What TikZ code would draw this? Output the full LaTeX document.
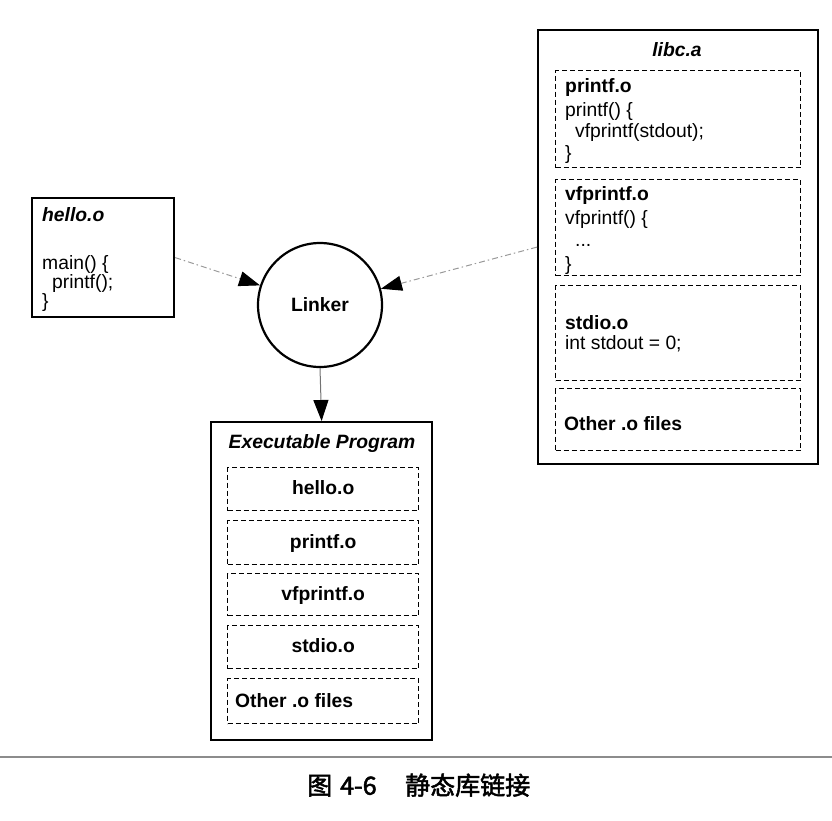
\documentclass[tikz,border=0pt]{standalone}
\usepackage{fontspec}
\setmainfont{Liberation Sans}
\newfontfamily\cjk{Noto Sans CJK SC}[FakeBold=2]
\usetikzlibrary{arrows.meta}
\tikzset{
  outerbox/.style={draw, line width=2.2pt, inner sep=0pt, anchor=north west},
  objbox/.style={draw, line width=1.4pt, dash pattern=on 5pt off 3pt, inner sep=0pt, anchor=north west},
  txt/.style={font=\fontsize{19.3}{22}\selectfont, inner sep=0pt, anchor=mid west, yshift=-3pt},
  btxt/.style={font=\fontsize{19.3}{22}\selectfont\bfseries, inner sep=0pt, anchor=mid west, yshift=-3pt},
  ctxt/.style={font=\fontsize{19.3}{22}\selectfont\bfseries, inner sep=0pt, anchor=mid, yshift=-3pt},
  bitxt/.style={font=\fontsize{19.3}{22}\selectfont\bfseries\itshape, inner sep=0pt, yshift=-3pt},
  linkarrow/.style={draw=black!40, line width=1pt, dash pattern=on 6pt off 3pt on 1.5pt off 3pt,
    -{Triangle[length=21pt,width=15pt,black]}},
  downarrow/.style={draw=black!55, line width=1pt, -{Triangle[length=21pt,width=15pt,black]}},
  capt/.style={font=\cjk\fontsize{25}{28}\selectfont, inner sep=0pt, anchor=mid west}
}
\begin{document}
\begin{tikzpicture}[x=1pt,y=-1pt]
\useasboundingbox (0,0) rectangle (832,820);

% hello.o
\node[outerbox, minimum width=142pt, minimum height=119pt] (hello) at (31,197) {};
\node[bitxt, anchor=mid west] (hellot) at (42,216) {hello.o};
\node[txt] (hl1) at (42,264) {main() \{};
\node[txt] (hl2) at (52,283) {printf();};
\node[txt] (hl3) at (42,302) {\}};

% linker
\node[draw, circle, line width=2.2pt, minimum size=124pt, inner sep=0pt,
      font=\fontsize{19.3}{22}\selectfont\bfseries] (linker) at (320,305) {Linker};

% libc.a
\node[outerbox, minimum width=280pt, minimum height=434pt] (libc) at (537,29) {};
\node[bitxt, anchor=mid] (libct) at (677,51) {libc.a};
\node[objbox, minimum width=245pt, minimum height=97pt] (lp) at (555,70) {};
\node[btxt] (lp1) at (565,87) {printf.o};
\node[txt] (lp2) at (565,111) {printf() \{};
\node[txt] (lp3) at (575,132) {vfprintf(stdout);};
\node[txt] (lp4) at (565,154) {\}};
\node[objbox, minimum width=245pt, minimum height=96pt] (lv) at (555,179) {};
\node[btxt] (lv1) at (565,195) {vfprintf.o};
\node[txt] (lv2) at (565,219) {vfprintf() \{};
\node[txt] (lv3) at (575,241) {...};
\node[txt] (lv4) at (565,265) {\}};
\node[objbox, minimum width=245pt, minimum height=95pt] (ls) at (555,285) {};
\node[btxt] (ls1) at (565,324) {stdio.o};
\node[txt] (ls2) at (565,344) {int stdout = 0;};
\node[objbox, minimum width=245pt, minimum height=62pt] (lo) at (555,388) {};
\node[btxt] (lo1) at (564,425) {Other .o files};

% executable
\node[outerbox, minimum width=221pt, minimum height=318pt] (exec) at (210,421) {};
\node[bitxt, anchor=mid] (exect) at (322,443) {Executable Program};
\node[objbox, minimum width=191pt, minimum height=43pt] (eh) at (227,467) {};
\node[ctxt] at (eh.center) (eht) {hello.o};
\node[objbox, minimum width=191pt, minimum height=44pt] (ep) at (227,520) {};
\node[ctxt] at (ep.center) (ept) {printf.o};
\node[objbox, minimum width=191pt, minimum height=42pt] (ev) at (227,573) {};
\node[ctxt] at (ev.center) (evt) {vfprintf.o};
\node[objbox, minimum width=191pt, minimum height=43pt] (es) at (227,625) {};
\node[ctxt] at (es.center) (est) {stdio.o};
\node[objbox, minimum width=191pt, minimum height=45pt] (eo) at (227,678) {};
\node[btxt] (eot) at (235,702) {Other .o files};

% connectors
\draw[linkarrow] (hello.east) -- (linker);
\draw[linkarrow] (libc.west) -- (linker);
\draw[downarrow] (linker.south) -- (exec.north);

% caption
\coordinate (rl) at (0,757);
\coordinate (rr) at (832,757);
\draw[black!45, line width=1.3pt] (rl) -- (rr);
\node[capt] (c1) at (307,792) {图};
\node[capt] (c2) at (340,792) {4-6};
\node[capt] (c3) at (405,792) {静态库链接};
\end{tikzpicture}
\end{document}
